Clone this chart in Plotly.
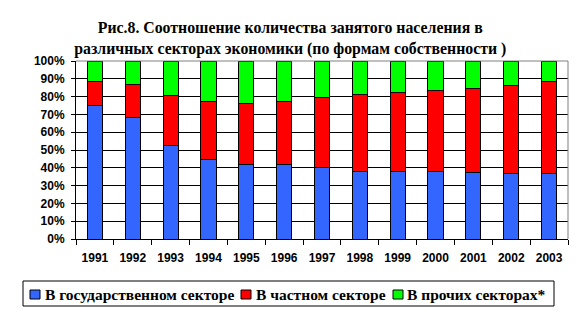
import plotly.graph_objects as go

years = ["1991", "1992", "1993", "1994", "1995", "1996", "1997", "1998", "1999", "2000", "2001", "2002", "2003"]
state = [75.1, 68.4, 52.6, 44.8, 42.0, 42.0, 40.3, 38.0, 38.0, 38.0, 37.5, 36.9, 36.9]
private = [13.3, 18.5, 27.9, 32.6, 34.0, 35.4, 39.3, 43.3, 44.4, 45.5, 47.2, 49.4, 51.7]
other = [11.6, 13.1, 19.5, 22.6, 24.0, 22.6, 20.4, 18.7, 17.6, 16.5, 15.3, 13.7, 11.4]

names = ["В государственном секторе", "В частном секторе", "В прочих секторах*"]
colors = ["#3366FF", "#FF0000", "#00FF00"]

W, H = 584, 315
L, R, T, B = 76, 16, 61, 76
PW, PH = W - L - R, H - T - B


def xp(px):
    return (px - L) / PW


def yp(py):
    return (H - B - py) / PH


fig = go.Figure()
for vals, nm, col in zip([state, private, other], names, colors):
    fig.add_trace(go.Bar(x=years, y=vals, name=nm, showlegend=False,
                         marker=dict(color=col, line=dict(color="black", width=1))))

serif = "Liberation Serif"
sans = "Liberation Sans"

fig.update_layout(
    width=W, height=H,
    margin=dict(l=L, r=R, t=T, b=B),
    barmode="stack", bargap=0.6,
    plot_bgcolor="white", paper_bgcolor="white",
    title=dict(text="Рис.8. Соотношение количества занятого населения в<br>различных секторах экономики (по формам собственности )",
               x=0.497, xref="container", xanchor="center",
               y=1 - 33 / H, yref="container", yanchor="middle",
               font=dict(family=serif, size=15.8, color="black", weight="bold")),
    showlegend=False,
    font=dict(family=sans, color="black"),
)
fig.update_xaxes(
    showline=True, linecolor="black", linewidth=1,
    ticks="outside", ticklen=5, tickcolor="black", tickson="boundaries",
    showgrid=False, ticklabelstandoff=8, automargin=False,
    tickfont=dict(family=sans, size=12, color="black", weight="bold"),
)
fig.update_yaxes(
    range=[0, 100], dtick=10, ticksuffix="%",
    showline=True, linecolor="black", linewidth=1,
    ticks="outside", ticklen=4, tickcolor="black",
    showgrid=True, gridcolor="black", gridwidth=1,
    zeroline=False, ticklabelstandoff=4, automargin=False,
    tickfont=dict(family=sans, size=12, color="black", weight="bold"),
)
fig.add_shape(type="line", xref="paper", yref="paper", x0=1, x1=1, y0=0, y1=1,
              line=dict(color="#808080", width=1))
fig.add_shape(type="line", xref="paper", yref="paper", x0=0, x1=1, y0=1, y1=1,
              line=dict(color="#808080", width=1))

# legend drawn as a box with swatches and labels
fig.add_shape(type="rect", xref="paper", yref="paper",
              x0=xp(23), x1=xp(554), y0=yp(306), y1=yp(281),
              line=dict(color="black", width=1), fillcolor="white")
swatch_x = [30, 241, 393]
text_x = [43, 254, 405]
for sx, tx, nm, col in zip(swatch_x, text_x, names, colors):
    fig.add_shape(type="rect", xref="paper", yref="paper",
                  x0=xp(sx), x1=xp(sx + 10), y0=yp(299), y1=yp(290),
                  line=dict(color="black", width=1), fillcolor=col)
    fig.add_annotation(text=nm, xref="paper", yref="paper",
                       x=xp(tx), y=yp(294), xanchor="left", yanchor="middle",
                       showarrow=False,
                       font=dict(family=serif, size=15.5, color="black", weight="bold"))

fig.write_html("out.html")
